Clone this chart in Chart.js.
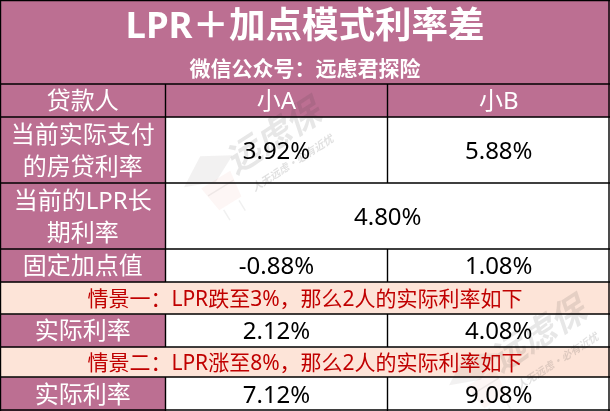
<!DOCTYPE html>
<html>
<head>
<meta charset="utf-8">
<title>LPR+加点模式利率差</title>
<script src="https://cdn.jsdelivr.net/npm/chart.js@4"></script>
<style>
  html, body { margin: 0; padding: 0; background: #fff; }
  canvas { display: block; }
</style>
</head>
<body>
<canvas id="rateTable" width="610" height="411"></canvas>
<script>
// table content
const titleText = 'LPR＋加点模式利率差';
const subtitleText = '微信公众号：远虑君探险';
const borrowerHeader = '贷款人';
const borrowers = ['小A', '小B'];
const currentRateLabel = ['当前实际支付', '的房贷利率'];
const currentRates = [3.92, 5.88];
const lprLabel = ['当前的LPR长', '期利率'];
const lprRate = [4.80];
const spreadLabel = '固定加点值';
const spreads = [-0.88, 1.08];
const scenarioOneNote = '情景一：LPR跌至3%，那么2人的实际利率如下';
const scenarioOneRates = [2.12, 4.08];
const scenarioTwoNote = '情景二：LPR涨至8%，那么2人的实际利率如下';
const scenarioTwoRates = [7.12, 9.08];
const actualRateLabel = '实际利率';
const watermarkName = '远虑保';
const watermarkMotto = '人无远虑·必有近忧';

// layout, in scale units (same as pixels here)
const colEdges = [0, 165.5, 387.5, 610];
const rowEdges = [0, 84, 117, 183, 249, 282, 314, 347, 377, 411];
const lineX = [165.5, 387.5];

const PINK = '#bc6f92';
const PEACH = '#fde4d8';
const WHITE = '#ffffff';
const FONT = '"Noto Sans", "Noto Sans CJK SC", sans-serif';
const pct = v => v.toFixed(2) + '%';

// helper: one row = one bar dataset, each cell is a floating bar
function row(r, cells) {
  return {
    barThickness: rowEdges[r + 1] - rowEdges[r],
    grouped: false,
    borderWidth: 0,
    backgroundColor: cells.map(c => c.fill),
    data: cells.map(c => ({ x: [colEdges[c.from], colEdges[c.to]], y: (rowEdges[r] + rowEdges[r + 1]) / 2 })),
    cellText: cells.map(c => ({ lines: c.lines, color: c.color, size: c.size || 24 }))
  };
}
const labelCell = lines => ({ from: 0, to: 1, fill: PINK, color: '#fff', lines: [].concat(lines) });
const valueCell = (col, v) => ({ from: col + 1, to: col + 2, fill: WHITE, color: '#000', lines: [pct(v)] });
const noteCell = note => ({ from: 0, to: 3, fill: PEACH, color: '#c00000', size: 21, lines: [note] });

const datasets = [
  row(0, [{ from: 0, to: 3, fill: PINK, color: '#fff', lines: [] }]),
  row(1, [labelCell(borrowerHeader),
    { from: 1, to: 2, fill: PINK, color: '#fff', lines: [borrowers[0]] },
    { from: 2, to: 3, fill: PINK, color: '#fff', lines: [borrowers[1]] }]),
  row(2, [labelCell(currentRateLabel), valueCell(0, currentRates[0]), valueCell(1, currentRates[1])]),
  row(3, [labelCell(lprLabel), { from: 1, to: 3, fill: WHITE, color: '#000', lines: [pct(lprRate[0])] }]),
  row(4, [labelCell(spreadLabel), valueCell(0, spreads[0]), valueCell(1, spreads[1])]),
  row(5, [noteCell(scenarioOneNote)]),
  row(6, [labelCell(actualRateLabel), valueCell(0, scenarioOneRates[0]), valueCell(1, scenarioOneRates[1])]),
  row(7, [noteCell(scenarioTwoNote)]),
  row(8, [labelCell(actualRateLabel), valueCell(0, scenarioTwoRates[0]), valueCell(1, scenarioTwoRates[1])])
];

// faint logo stamped over the table, twice
function drawWatermark(ctx, ox, oy) {
  ctx.save();
  ctx.translate(ox, oy);
  ctx.textAlign = 'center';
  ctx.textBaseline = 'middle';
  // cap + face
  ctx.save();
  ctx.translate(-64, 38);
  ctx.rotate(-0.55);
  ctx.fillStyle = 'rgba(90,80,80,0.08)';
  ctx.beginPath();
  ctx.moveTo(-28, -4); ctx.lineTo(2, -22); ctx.lineTo(30, -6); ctx.lineTo(2, 8);
  ctx.closePath();
  ctx.fill();
  ctx.fillStyle = 'rgba(220,110,80,0.06)';
  ctx.beginPath();
  ctx.moveTo(-14, 6); ctx.lineTo(20, 6); ctx.lineTo(16, 34); ctx.lineTo(-10, 34);
  ctx.closePath();
  ctx.fill();
  ctx.strokeStyle = 'rgba(70,70,70,0.08)';
  ctx.lineWidth = 1.5;
  ctx.beginPath();
  ctx.moveTo(-12, 16); ctx.lineTo(18, 16);
  ctx.moveTo(-6, 48); ctx.lineTo(-6, 36);
  ctx.moveTo(12, 48); ctx.lineTo(12, 36);
  ctx.stroke();
  ctx.restore();
  // name
  ctx.rotate(-0.57);
  ctx.fillStyle = 'rgba(60,60,60,0.12)';
  ctx.font = 'italic bold 35px "Noto Sans CJK SC"';
  ctx.fillText(watermarkName, 0, -3);
  ctx.font = 'italic bold 10.5px "Noto Sans CJK SC"';
  ctx.fillStyle = 'rgba(60,60,60,0.16)';
  ctx.fillText(watermarkMotto, 2, 31);
  ctx.restore();
}

const tablePlugin = {
  id: 'tablePlugin',
  afterDatasetsDraw(chart) {
    const { ctx, scales: { x, y } } = chart;
    drawWatermark(ctx, x.getPixelForValue(274), y.getPixelForValue(138));
    drawWatermark(ctx, x.getPixelForValue(539), y.getPixelForValue(336));

    // grid lines
    ctx.save();
    ctx.strokeStyle = '#000';
    ctx.lineWidth = 1.4;
    ctx.beginPath();
    const hLine = (v, a, b) => { ctx.moveTo(x.getPixelForValue(a), y.getPixelForValue(v)); ctx.lineTo(x.getPixelForValue(b), y.getPixelForValue(v)); };
    const vLine = (v, a, b) => { ctx.moveTo(x.getPixelForValue(v), y.getPixelForValue(a)); ctx.lineTo(x.getPixelForValue(v), y.getPixelForValue(b)); };
    rowEdges.slice(1, -1).forEach(e => hLine(e, 0, 610));
    hLine(0.5, 0, 610);
    hLine(410, 0, 610);
    vLine(0.5, 0, 411);
    vLine(609, 0, 411);
    // first column line runs all rows except title and notes, second skips the 4.80% cell too
    [[1, 5], [6, 7], [8, 9]].forEach(([a, b]) => vLine(lineX[0], rowEdges[a], rowEdges[b]));
    [[1, 3], [4, 5], [6, 7], [8, 9]].forEach(([a, b]) => vLine(lineX[1], rowEdges[a], rowEdges[b]));
    ctx.stroke();
    ctx.restore();

    // cell text, centred on the bars
    ctx.save();
    ctx.textAlign = 'center';
    ctx.textBaseline = 'middle';
    chart.data.datasets.forEach((ds, i) => {
      chart.getDatasetMeta(i).data.forEach((bar, j) => {
        const cell = ds.cellText[j];
        const c = bar.getCenterPoint();
        ctx.fillStyle = cell.color;
        ctx.font = cell.size + 'px ' + FONT;
        cell.lines.forEach((line, k) => {
          ctx.fillText(line, c.x, c.y + 2 + (k - (cell.lines.length - 1) / 2) * 32);
        });
      });
    });
    // title block sits in the first bar
    const cx = x.getPixelForValue(305);
    ctx.fillStyle = '#fff';
    ctx.font = 'bold 36.5px ' + FONT;
    ctx.fillText(titleText, cx, y.getPixelForValue(28));
    ctx.font = 'bold 21px ' + FONT;
    ctx.fillText(subtitleText, cx, y.getPixelForValue(70));
    ctx.restore();
  }
};

new Chart(document.getElementById('rateTable'), {
  type: 'bar',
  data: { datasets },
  options: {
    indexAxis: 'y',
    responsive: false,
    devicePixelRatio: 1,
    animation: false,
    layout: { padding: 0 },
    plugins: { legend: { display: false }, tooltip: { enabled: false }, title: { display: false } },
    scales: {
      x: { type: 'linear', min: 0, max: 610, display: false },
      y: { type: 'linear', min: 0, max: 411, reverse: true, offset: false, display: false }
    }
  },
  plugins: [tablePlugin]
});
</script>
</body>
</html>
